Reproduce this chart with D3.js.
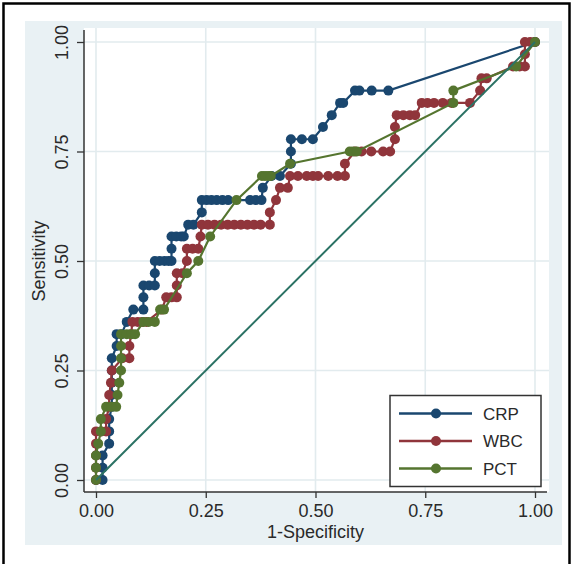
<!DOCTYPE html>
<html>
<head>
<meta charset="utf-8">
<script src="https://cdn.jsdelivr.net/npm/d3@7"></script>
<style>
  html, body { margin: 0; padding: 0; background: #ffffff; }
  svg { display: block; }
  text { font-family: "Liberation Sans", Arial, sans-serif; }
</style>
</head>
<body>
<div id="chart"></div>
<script>
// ---- data ----
const seriesNames = ["CRP", "WBC", "PCT"];

const crpX = [0, 0.015, 0.015, 0.015, 0.03, 0.03, 0.03, 0.036, 0.036, 0.036, 0.036, 0.036, 0.047, 0.047, 0.058, 0.07, 0.085, 0.108, 0.108, 0.108, 0.121, 0.134, 0.134, 0.134, 0.145, 0.156, 0.165, 0.172, 0.172, 0.172, 0.183, 0.194, 0.2, 0.21, 0.222, 0.241, 0.241, 0.252, 0.263, 0.275, 0.288, 0.301, 0.351, 0.364, 0.377, 0.38, 0.40, 0.419, 0.444, 0.444, 0.444, 0.469, 0.494, 0.517, 0.537, 0.556, 0.563, 0.59, 0.60, 0.628, 0.666, 1];
const crpY = [0, 0, 0.028, 0.056, 0.083, 0.111, 0.139, 0.167, 0.194, 0.222, 0.25, 0.278, 0.306, 0.333, 0.333, 0.361, 0.389, 0.389, 0.417, 0.444, 0.444, 0.444, 0.472, 0.5, 0.5, 0.5, 0.5, 0.5, 0.528, 0.556, 0.556, 0.556, 0.556, 0.583, 0.583, 0.611, 0.639, 0.639, 0.639, 0.639, 0.639, 0.639, 0.639, 0.639, 0.639, 0.667, 0.694, 0.694, 0.722, 0.75, 0.778, 0.778, 0.778, 0.806, 0.833, 0.861, 0.861, 0.889, 0.889, 0.889, 0.889, 1];

const wbcX = [0, 0, 0, 0, 0, 0.012, 0.023, 0.023, 0.03, 0.03, 0.034, 0.036, 0.06, 0.076, 0.076, 0.08, 0.083, 0.095, 0.105, 0.115, 0.15, 0.16, 0.172, 0.184, 0.184, 0.184, 0.197, 0.207, 0.207, 0.22, 0.233, 0.238, 0.241, 0.255, 0.27, 0.285, 0.30, 0.315, 0.33, 0.345, 0.36, 0.375, 0.396, 0.396, 0.41, 0.419, 0.437, 0.442, 0.46, 0.48, 0.494, 0.506, 0.529, 0.55, 0.567, 0.567, 0.59, 0.605, 0.627, 0.654, 0.67, 0.681, 0.681, 0.685, 0.70, 0.715, 0.727, 0.742, 0.755, 0.77, 0.79, 0.81, 0.852, 0.875, 0.878, 0.89, 0.95, 0.965, 0.977, 0.977, 0.977, 0.989, 1];
const wbcY = [0, 0.028, 0.056, 0.083, 0.111, 0.111, 0.111, 0.139, 0.167, 0.194, 0.222, 0.25, 0.278, 0.278, 0.306, 0.333, 0.361, 0.361, 0.361, 0.361, 0.389, 0.417, 0.417, 0.417, 0.444, 0.472, 0.472, 0.5, 0.528, 0.528, 0.528, 0.556, 0.583, 0.583, 0.583, 0.583, 0.583, 0.583, 0.583, 0.583, 0.583, 0.583, 0.583, 0.611, 0.639, 0.667, 0.667, 0.694, 0.694, 0.694, 0.694, 0.694, 0.694, 0.694, 0.694, 0.722, 0.75, 0.75, 0.75, 0.75, 0.75, 0.778, 0.806, 0.833, 0.833, 0.833, 0.833, 0.861, 0.861, 0.861, 0.861, 0.861, 0.861, 0.889, 0.917, 0.917, 0.944, 0.944, 0.944, 0.972, 1, 1, 1];

const pctX = [0, 0, 0, 0.005, 0.011, 0.011, 0.023, 0.035, 0.046, 0.049, 0.053, 0.057, 0.057, 0.057, 0.057, 0.07, 0.08, 0.089, 0.108, 0.12, 0.134, 0.146, 0.155, 0.207, 0.233, 0.26, 0.32, 0.378, 0.385, 0.392, 0.398, 0.442, 0.578, 0.586, 0.594, 0.814, 0.814, 0.957, 1];
const pctY = [0, 0.028, 0.056, 0.083, 0.111, 0.139, 0.167, 0.167, 0.167, 0.194, 0.222, 0.25, 0.278, 0.306, 0.333, 0.333, 0.333, 0.333, 0.361, 0.361, 0.361, 0.389, 0.389, 0.472, 0.5, 0.556, 0.639, 0.694, 0.694, 0.694, 0.694, 0.722, 0.75, 0.75, 0.75, 0.861, 0.889, 0.944, 1];

const refX = [0, 1];
const refY = [0, 1];

const tickValues = [0, 0.25, 0.5, 0.75, 1];
const xTitle = "1-Specificity";
const yTitle = "Sensitivity";

// ---- styles ----
const colors = { CRP: "#1a476f", WBC: "#90353b", PCT: "#55752f" };
const refColor = "#2b7264";

const W = 574, H = 564;
const svg = d3.select("#chart").append("svg").attr("width", W).attr("height", H);

// outer border
svg.append("rect").attr("x", 3.5).attr("y", 3.5).attr("width", 566).attr("height", 575)
  .attr("fill", "#ffffff").attr("stroke", "#000").attr("stroke-width", 2.5);

// graph region
svg.append("rect").attr("x", 25).attr("y", 21).attr("width", 537).attr("height", 524)
  .attr("fill", "#e9f1f4");

// plot region
const pr = { x0: 84, x1: 549, y0: 28, y1: 492 };
svg.append("rect").attr("x", pr.x0).attr("y", pr.y0).attr("width", pr.x1 - pr.x0).attr("height", pr.y1 - pr.y0)
  .attr("fill", "#ffffff");

const x = d3.scaleLinear().domain([0, 1]).range([96, 535]);
const y = d3.scaleLinear().domain([0, 1]).range([480, 42]);

// gridlines
const grid = svg.append("g");
grid.selectAll("line.v").data(tickValues).enter().append("line")
  .attr("x1", d => x(d)).attr("x2", d => x(d)).attr("y1", pr.y0).attr("y2", pr.y1)
  .attr("stroke", "#e2ebee").attr("stroke-width", 1.6);
grid.selectAll("line.h").data(tickValues).enter().append("line")
  .attr("y1", d => y(d)).attr("y2", d => y(d)).attr("x1", pr.x0).attr("x2", pr.x1)
  .attr("stroke", "#e2ebee").attr("stroke-width", 1.6);

// axes
const xAxis = d3.axisBottom(x).tickValues(tickValues).tickSize(6).tickPadding(6).tickFormat(d3.format(".2f"));
const gx = svg.append("g").attr("transform", `translate(0,${pr.y1})`).call(xAxis);
gx.select(".domain").attr("d", `M${pr.x0},0H${pr.x1 - 2}`).attr("stroke", "#333").attr("stroke-width", 1.5);
gx.selectAll(".tick line").attr("stroke", "#333").attr("stroke-width", 1.3);
gx.selectAll(".tick text").attr("font-size", 18).attr("fill", "#2a2a2a")
  .attr("font-family", "'Liberation Sans', Arial, sans-serif").attr("dy", "0.71em");

const yAxis = d3.axisLeft(y).tickValues(tickValues).tickSize(7).tickPadding(6).tickFormat(d3.format(".2f"));
const gy = svg.append("g").attr("transform", `translate(${pr.x0},0)`).call(yAxis);
gy.select(".domain").attr("d", `M0,${pr.y0 + 2}V${pr.y1}`).attr("stroke", "#333").attr("stroke-width", 1.5);
gy.selectAll(".tick line").attr("stroke", "#333").attr("stroke-width", 1.3);
gy.selectAll(".tick text")
  .attr("font-size", 18).attr("fill", "#2a2a2a")
  .attr("font-family", "'Liberation Sans', Arial, sans-serif")
  .attr("x", null).attr("dy", null)
  .attr("text-anchor", "middle")
  .attr("transform", "translate(-16,0) rotate(-90)");

// axis titles
svg.append("text").attr("x", x(0.5)).attr("y", 538).attr("text-anchor", "middle")
  .attr("font-size", 18).attr("fill", "#2a2a2a").text(xTitle);
svg.append("text").attr("transform", `translate(45,${y(0.5)}) rotate(-90)`).attr("text-anchor", "middle")
  .attr("font-size", 18).attr("fill", "#2a2a2a").text(yTitle);

// curves
const line = d3.line().x(d => x(d[0])).y(d => y(d[1]));
const series = [
  { name: "CRP", xs: crpX, ys: crpY },
  { name: "WBC", xs: wbcX, ys: wbcY },
  { name: "PCT", xs: pctX, ys: pctY }
];
const r = 5;
series.forEach(s => {
  const pts = s.xs.map((v, i) => [v, s.ys[i]]);
  const g = svg.append("g");
  g.append("path").datum(pts).attr("d", line).attr("fill", "none")
    .attr("stroke", colors[s.name]).attr("stroke-width", 2.2);
  g.selectAll("circle").data(pts).enter().append("circle")
    .attr("cx", d => x(d[0])).attr("cy", d => y(d[1])).attr("r", r)
    .attr("fill", colors[s.name]);
});

// reference line
svg.append("path").datum(refX.map((v, i) => [v, refY[i]])).attr("d", line)
  .attr("fill", "none").attr("stroke", refColor).attr("stroke-width", 2);

// legend
const lg = svg.append("g");
lg.append("rect").attr("x", 390).attr("y", 395.5).attr("width", 151).attr("height", 91)
  .attr("fill", "#ffffff").attr("stroke", "#333").attr("stroke-width", 1.5);
const ly = d3.scalePoint().domain(seriesNames).range([413.5, 468.5]);
seriesNames.forEach(n => {
  lg.append("line").attr("x1", 399).attr("x2", 472).attr("y1", ly(n)).attr("y2", ly(n))
    .attr("stroke", colors[n]).attr("stroke-width", 2.6);
  lg.append("circle").attr("cx", 436).attr("cy", ly(n)).attr("r", r).attr("fill", colors[n]);
  lg.append("text").attr("x", 483).attr("y", ly(n)).attr("dy", "0.36em")
    .attr("font-size", 17).attr("fill", "#2a2a2a").text(n);
});
</script>
</body>
</html>
